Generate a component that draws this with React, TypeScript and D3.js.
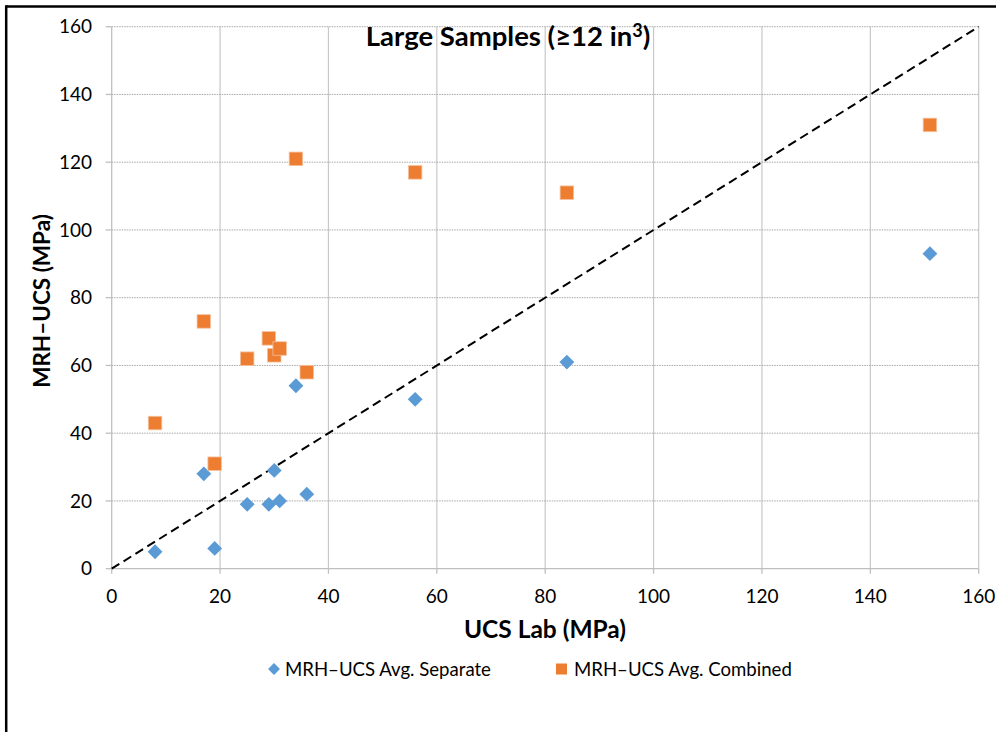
import React, { useEffect, useRef } from "react";
import * as d3 from "d3";

const ucsLab = [8, 17, 19, 25, 29, 30, 31, 34, 36, 56, 84, 151];
const avgSeparate = [5, 28, 6, 19, 19, 29, 20, 54, 22, 50, 61, 93];
const avgCombined = [43, 73, 31, 62, 68, 63, 65, 121, 58, 117, 111, 131];
const xTicks = [0, 20, 40, 60, 80, 100, 120, 140, 160];
const yTicks = [0, 20, 40, 60, 80, 100, 120, 140, 160];
const seriesNames = ["MRH\u2013UCS Avg. Separate", "MRH\u2013UCS Avg. Combined"];
const titleMain = "Large Samples (\u226512 in";
const titleSup = "3";
const titleEnd = ")";
const xLabel = "UCS Lab (MPa)";
const yLabel = "MRH\u2013UCS (MPa)";

const W = 996;
const H = 732;
const FONT = "Lato, 'Open Sans', sans-serif";
const BLUE = "#5B9BD5";
const ORANGE = "#ED7D31";

export default function App() {
  const ref = useRef<SVGSVGElement | null>(null);

  useEffect(() => {
    const svg = d3.select(ref.current);
    svg.selectAll("*").remove();

    const x = d3.scaleLinear().domain([0, 160]).range([111.7, 978.7]);
    const y = d3.scaleLinear().domain([0, 160]).range([568.7, 26.7]);

    svg.append("rect").attr("width", W).attr("height", H).attr("fill", "#fff");

    // outer frame (top and left)
    svg.append("line").attr("x1", 6).attr("x2", W).attr("y1", 6.5).attr("y2", 6.5)
      .attr("stroke", "#000").attr("stroke-width", 2.5);
    svg.append("line").attr("x1", 6.2).attr("x2", 6.2).attr("y1", 5.3).attr("y2", H)
      .attr("stroke", "#000").attr("stroke-width", 2.5);

    // vertical gridlines
    svg.append("g").selectAll("line").data(xTicks.filter((t) => t > 0)).join("line")
      .attr("x1", (d) => x(d)).attr("x2", (d) => x(d))
      .attr("y1", y(160)).attr("y2", y(0))
      .attr("stroke", "#c8c8c8").attr("stroke-width", 1.2);

    // horizontal gridlines (dotted)
    svg.append("g").selectAll("line").data(yTicks.filter((t) => t > 0)).join("line")
      .attr("x1", x(0)).attr("x2", x(160))
      .attr("y1", (d) => y(d)).attr("y2", (d) => y(d))
      .attr("stroke", "#a8a8a8").attr("stroke-width", 1).attr("stroke-dasharray", "1.5,1");

    // axes lines
    svg.append("line").attr("x1", x(0)).attr("x2", x(0)).attr("y1", y(160)).attr("y2", y(0))
      .attr("stroke", "#bfbfbf").attr("stroke-width", 1.3);
    svg.append("line").attr("x1", x(0)).attr("x2", x(160)).attr("y1", y(0)).attr("y2", y(0))
      .attr("stroke", "#bfbfbf").attr("stroke-width", 1.3);

    // ticks
    svg.append("g").selectAll("line").data(yTicks).join("line")
      .attr("x1", x(0) - 6).attr("x2", x(0))
      .attr("y1", (d) => y(d)).attr("y2", (d) => y(d))
      .attr("stroke", "#bfbfbf").attr("stroke-width", 1.3);
    svg.append("g").selectAll("line").data(xTicks).join("line")
      .attr("x1", (d) => x(d)).attr("x2", (d) => x(d))
      .attr("y1", y(0)).attr("y2", y(0) + 5)
      .attr("stroke", "#bfbfbf").attr("stroke-width", 1.3);

    // tick labels
    svg.append("g").selectAll("text").data(yTicks).join("text")
      .attr("x", 92).attr("y", (d) => y(d)).attr("dy", "0.35em")
      .attr("text-anchor", "end").attr("font-family", FONT).attr("font-size", 19)
      .attr("fill", "#000").text((d) => String(d));
    svg.append("g").selectAll("text").data(xTicks).join("text")
      .attr("x", (d) => x(d)).attr("y", 603)
      .attr("text-anchor", "middle").attr("font-family", FONT).attr("font-size", 19)
      .attr("fill", "#000").text((d) => String(d));

    // 1:1 line
    const line = d3.line<number>().x((d) => x(d)).y((d) => y(d));
    svg.append("path").attr("d", line([0, 160]) as string)
      .attr("fill", "none").attr("stroke", "#000").attr("stroke-width", 2)
      .attr("stroke-dasharray", "9,5");

    // series
    const diamond = d3.symbol().type(d3.symbolDiamond2).size(140);
    svg.append("g").selectAll("path").data(ucsLab).join("path")
      .attr("d", diamond() as string)
      .attr("transform", (d, i) => `translate(${x(d)},${y(avgSeparate[i])})`)
      .attr("fill", BLUE);

    const sq = 13.5;
    svg.append("g").selectAll("rect").data(ucsLab).join("rect")
      .attr("x", (d) => x(d) - sq / 2).attr("y", (d, i) => y(avgCombined[i]) - sq / 2)
      .attr("width", sq).attr("height", sq)
      .attr("fill", ORANGE).attr("stroke", "#f6c09c").attr("stroke-width", 0.8);

    // title
    const t = svg.append("text").attr("x", 508).attr("y", 46)
      .attr("text-anchor", "middle").attr("font-family", FONT).attr("font-weight", 700)
      .attr("font-size", 27.5).attr("fill", "#000");
    t.append("tspan").text(titleMain);
    t.append("tspan").attr("font-size", 18).attr("dy", -9).text(titleSup);
    t.append("tspan").attr("dy", 9).text(titleEnd);

    // axis titles
    svg.append("text").attr("x", 545).attr("y", 638)
      .attr("text-anchor", "middle").attr("font-family", FONT).attr("font-weight", 700)
      .attr("font-size", 24.5).attr("fill", "#000").text(xLabel);
    svg.append("text")
      .attr("transform", `translate(50,301) rotate(-90)`)
      .attr("text-anchor", "middle").attr("font-family", FONT).attr("font-weight", 700)
      .attr("font-size", 22.5).attr("fill", "#000").text(yLabel);

    // legend
    const lg = svg.append("g");
    lg.append("path").attr("d", d3.symbol().type(d3.symbolDiamond2).size(90)() as string)
      .attr("transform", "translate(274,669)").attr("fill", BLUE);
    lg.append("text").attr("x", 285).attr("y", 669).attr("dy", "0.35em")
      .attr("font-family", FONT).attr("font-size", 18.6).attr("fill", "#000").text(seriesNames[0]);
    lg.append("rect").attr("x", 556).attr("y", 663.5).attr("width", 11).attr("height", 11)
      .attr("fill", ORANGE);
    lg.append("text").attr("x", 574).attr("y", 669).attr("dy", "0.35em")
      .attr("font-family", FONT).attr("font-size", 18.6).attr("fill", "#000").text(seriesNames[1]);
  }, []);

  return (
    <svg
      ref={ref}
      width={W}
      height={H}
      style={{ position: "absolute", left: 0, top: 0, display: "block" }}
    />
  );
}
